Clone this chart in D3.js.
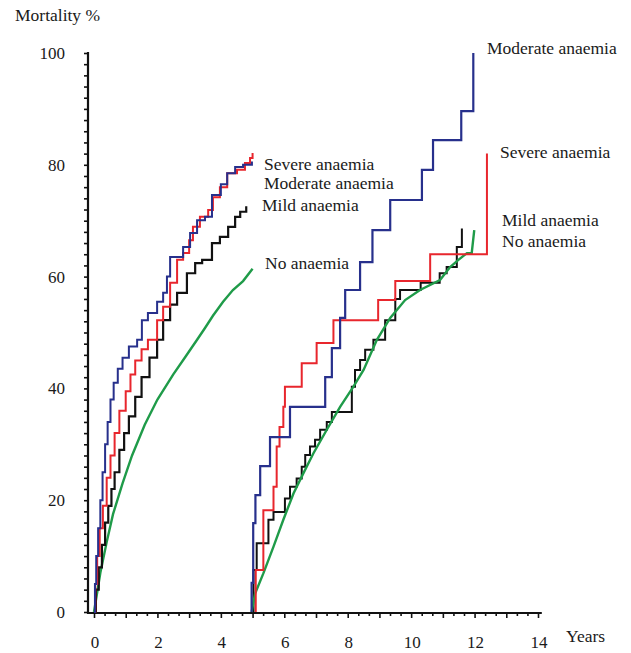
<!DOCTYPE html>
<html>
<head>
<meta charset="utf-8">
<script src="https://cdn.jsdelivr.net/npm/d3@7"></script>
<style>
  body { margin: 0; background: #fff; }
</style>
</head>
<body>
<svg id="chart" width="631" height="653" font-family="'Liberation Serif', 'Times New Roman', Times, serif" font-size="17.5"></svg>
<script>
// cumulative mortality (%) against years, first follow-up period
const severeEarly = [[0,0],[0.04,5],[0.1,10],[0.18,15],[0.28,19],[0.4,24],[0.52,28],[0.65,32],[0.8,36],[1.0,39.5],[1.15,42.5],[1.3,45],[1.5,47],[1.7,48.7],[1.99,52.2],[2.18,54.6],[2.4,58.9],[2.62,63.0],[2.81,64.2],[3.0,66.5],[3.12,68.9],[3.34,70.7],[3.6,71.9],[3.75,74.2],[3.97,76.0],[4.2,78.5],[4.51,79.1],[4.76,80.3],[4.92,81.2],[5.0,82.1]];
const moderateEarly = [[0,0],[0.03,5],[0.07,10],[0.13,15],[0.2,20],[0.27,25],[0.35,30],[0.43,34],[0.52,38],[0.62,41],[0.75,43.5],[0.9,45.5],[1.1,47.5],[1.36,48.7],[1.51,52.2],[1.7,53.5],[1.99,55.5],[2.18,57.1],[2.3,60],[2.4,63.5],[2.81,65.3],[3.03,67.8],[3.25,70.1],[3.5,70.7],[3.72,74.6],[4.0,76.5],[4.2,78.5],[4.45,79.6],[4.7,80.0],[4.98,80.6]];
const mildEarly = [[0,0],[0.06,4],[0.15,8],[0.25,12],[0.35,16],[0.45,19],[0.55,22],[0.65,25],[0.8,29],[0.95,32],[1.1,35],[1.3,38.5],[1.5,42],[1.75,45.5],[1.99,48.7],[2.18,52.2],[2.4,55],[2.62,57.1],[2.93,60.6],[3.19,62.4],[3.41,63.0],[3.72,66.0],[3.97,67.1],[4.23,68.9],[4.45,70.7],[4.61,71.6],[4.8,72.6]];
const noneEarly = [[0,0],[0.1,3.5],[0.2,7],[0.4,12.5],[0.6,17.5],[0.9,23],[1.2,28],[1.6,33.5],[2.0,38],[2.5,42.5],[2.9,45.8],[3.25,48.7],[3.5,50.8],[3.75,53.0],[4.07,55.5],[4.38,57.6],[4.7,59.2],[5.0,61.4]];

// second follow-up period, drawn from year 5
const severeLate = [[5.1,0],[5.1,7.5],[5.34,18.2],[5.66,22.4],[5.76,29.6],[5.85,33.1],[5.97,36.7],[6.02,40.3],[6.55,44.5],[7.02,48.1],[7.55,52.2],[8.96,55.8],[9.5,59.2],[10.6,64.0],[12.39,82]];
const moderateLate = [[4.97,0],[4.97,5.2],[5.02,15.9],[5.09,20.9],[5.24,26.1],[5.55,31.3],[6.18,36.7],[7.29,42],[7.5,47.2],[7.76,52.6],[7.92,57.6],[8.39,62.6],[8.78,68.3],[9.34,73.7],[10.34,79.1],[10.69,84.4],[11.58,89.6],[11.96,100]];
const mildLate = [[5.03,0],[5.03,7.5],[5.13,12.3],[5.5,16.5],[5.66,17.9],[6.02,20.3],[6.18,22.4],[6.39,23.9],[6.55,26.0],[6.66,28.1],[6.81,29.6],[6.97,30.8],[7.13,32.6],[7.34,34.0],[7.5,35.8],[8.13,40.3],[8.23,43.3],[8.39,45.1],[8.55,46.9],[8.81,48.7],[9.18,52.2],[9.5,56],[9.65,57.6],[10.3,58.9],[10.9,60.6],[11.12,61.7],[11.44,65.3],[11.6,68.6]];
const noneLate = [[4.97,0],[5.08,3.3],[5.34,6.9],[5.66,11.7],[5.97,16.5],[6.29,21.2],[6.6,24.8],[6.92,28.4],[7.34,32.6],[7.76,36.7],[8.18,40.3],[8.5,43.3],[8.92,48.7],[9.34,52.6],[9.81,55.8],[10.28,57.6],[10.91,59.4],[11.23,61.7],[11.49,63.0],[11.76,64.2],[11.91,64.2],[11.99,68.3]];

const yLabels = [0, 20, 40, 60, 80, 100];
const xLabels = [0, 2, 4, 6, 8, 10, 12, 14];

const svg = d3.select("#chart");

const xScale = d3.scaleLinear().domain([0, 14]).range([94, 538]);
const yScale = d3.scaleLinear().domain([0, 100]).range([612, 53]);

const BLUE = "#27308c", RED = "#e8262d", BLACK = "#111", GREEN = "#1f9b49";

// y axis: small ticks every 2 %
let yaxis = d3.axisLeft(yScale)
              .tickValues(d3.range(0, 101, 2))
              .tickSize(4)
              .tickSizeOuter(0)
              .tickFormat("");
let y_axis = svg.append("g").attr("transform", "translate(88,0)").call(yaxis);
y_axis.select(".domain").remove();
y_axis.selectAll(".tick line").attr("stroke", "#111").attr("stroke-width", 1.6);

// x axis: ticks every third of a year, a bit longer on whole years
let xaxis = d3.axisBottom(xScale)
              .tickValues(d3.range(0, 42.5, 1).map(d => d / 3))
              .tickSize(3)
              .tickSizeOuter(0)
              .tickFormat("");
let x_axis = svg.append("g").attr("transform", "translate(0,613)").call(xaxis);
x_axis.select(".domain").remove();
x_axis.selectAll(".tick line")
      .attr("stroke", "#111")
      .attr("stroke-width", 1.6)
      .attr("y2", (d, i) => i % 3 === 0 ? 5 : 3);

// axis lines
svg.append("line")
   .attr("x1", 88).attr("x2", 88)
   .attr("y1", yScale(100) - 1).attr("y2", 614)
   .attr("stroke", "#111").attr("stroke-width", 2.2);
svg.append("line")
   .attr("x1", 87).attr("x2", xScale(14.12))
   .attr("y1", 613).attr("y2", 613)
   .attr("stroke", "#111").attr("stroke-width", 2.2);

// tick labels
svg.append("g").selectAll("text")
   .data(yLabels)
   .join("text")
   .attr("x", 65)
   .attr("y", d => yScale(d))
   .attr("dy", "0.35em")
   .attr("text-anchor", "end")
   .attr("font-size", 17)
   .attr("fill", "#1a1a1a")
   .text(d => d);

svg.append("g").selectAll("text")
   .data(xLabels)
   .join("text")
   .attr("x", d => xScale(d) + 1)
   .attr("y", 648)
   .attr("text-anchor", "middle")
   .attr("font-size", 17)
   .attr("fill", "#1a1a1a")
   .text(d => d);

svg.append("text").attr("x", 15).attr("y", 21).attr("fill", "#1a1a1a").text("Mortality %");
svg.append("text").attr("x", 566).attr("y", 642).attr("fill", "#1a1a1a").text("Years");

// curves
const stepLine = d3.line().x(d => xScale(d[0])).y(d => yScale(d[1])).curve(d3.curveStepAfter);
const plainLine = d3.line().x(d => xScale(d[0])).y(d => yScale(d[1]));

const series = [
  { data: noneEarly, color: GREEN, gen: plainLine, w: 2.4 },
  { data: mildEarly, color: BLACK, gen: stepLine, w: 2.2 },
  { data: severeEarly, color: RED, gen: stepLine, w: 2 },
  { data: moderateEarly, color: BLUE, gen: stepLine, w: 2 },
  { data: mildLate, color: BLACK, gen: stepLine, w: 2 },
  { data: noneLate, color: GREEN, gen: plainLine, w: 2.4 },
  { data: severeLate, color: RED, gen: stepLine, w: 2 },
  { data: moderateLate, color: BLUE, gen: stepLine, w: 2.2 }
];

svg.append("g").selectAll("path")
   .data(series)
   .join("path")
   .attr("fill", "none")
   .attr("stroke", d => d.color)
   .attr("stroke-width", d => d.w)
   .attr("stroke-linejoin", "miter")
   .attr("d", d => d.gen(d.data));

// curve labels
const earlyNames = ["Severe anaemia", "Moderate anaemia", "Mild anaemia", "No anaemia"];
const lateNames = ["Moderate anaemia", "Severe anaemia", "Mild anaemia", "No anaemia"];
const earlyPos = [[264, 170], [264, 189], [262, 211], [265, 269]];
const latePos = [[487, 54], [500, 158], [502, 226], [502, 247]];

svg.append("g").selectAll("text")
   .data(earlyNames)
   .join("text")
   .attr("x", (d, i) => earlyPos[i][0])
   .attr("y", (d, i) => earlyPos[i][1])
   .attr("fill", "#1a1a1a")
   .text(d => d);

svg.append("g").selectAll("text")
   .data(lateNames)
   .join("text")
   .attr("x", (d, i) => latePos[i][0])
   .attr("y", (d, i) => latePos[i][1])
   .attr("fill", "#1a1a1a")
   .text(d => d);
</script>
</body>
</html>
